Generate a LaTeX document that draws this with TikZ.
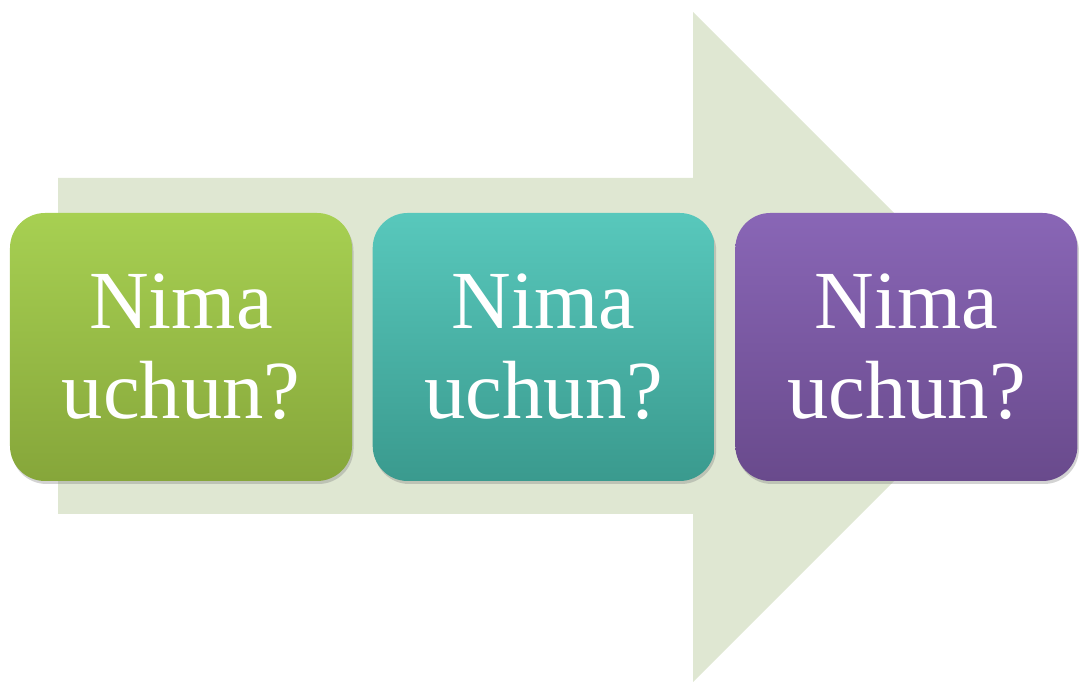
\documentclass[tikz,border=0pt]{standalone}
\usepackage{fontspec}
\setmainfont{Liberation Serif}
\usetikzlibrary{positioning, shadows}

\definecolor{arrowfill}{HTML}{DFE7D2}
\definecolor{greentop}{HTML}{A7D052}
\definecolor{greenbot}{HTML}{86A63A}
\definecolor{tealtop}{HTML}{58C8BC}
\definecolor{tealbot}{HTML}{3A9A8E}
\definecolor{purpletop}{HTML}{8966B6}
\definecolor{purplebot}{HTML}{694A8C}

\tikzset{
  stagebox/.style={rounded corners=0.7cm, minimum width=6.84cm, minimum height=5.36cm,
    align=center, text=white, inner sep=0pt,
    font=\fontsize{47}{51}\selectfont,
    drop shadow={opacity=0.35, shadow xshift=0.03cm, shadow yshift=-0.06cm}},
  greenbox/.style={stagebox, top color=greentop, bottom color=greenbot},
  tealbox/.style={stagebox, top color=tealtop, bottom color=tealbot},
  purplebox/.style={stagebox, top color=purpletop, bottom color=purplebot}
}

\begin{document}
\begin{tikzpicture}
\useasboundingbox (0,0) rectangle (21.62,13.72);

\fill[arrowfill] (1.16,3.44) -- (13.86,3.44) -- (13.86,0.08) -- (20.56,6.78)
  -- (13.86,13.48) -- (13.86,10.16) -- (1.16,10.16) -- cycle;

\node[greenbox] (why1) at (3.62,6.78) {Nima\\uchun?};
\node[tealbox, right=0.4cm of why1] (why2) {Nima\\uchun?};
\node[purplebox, right=0.4cm of why2] (why3) {Nima\\uchun?};

\end{tikzpicture}
\end{document}
